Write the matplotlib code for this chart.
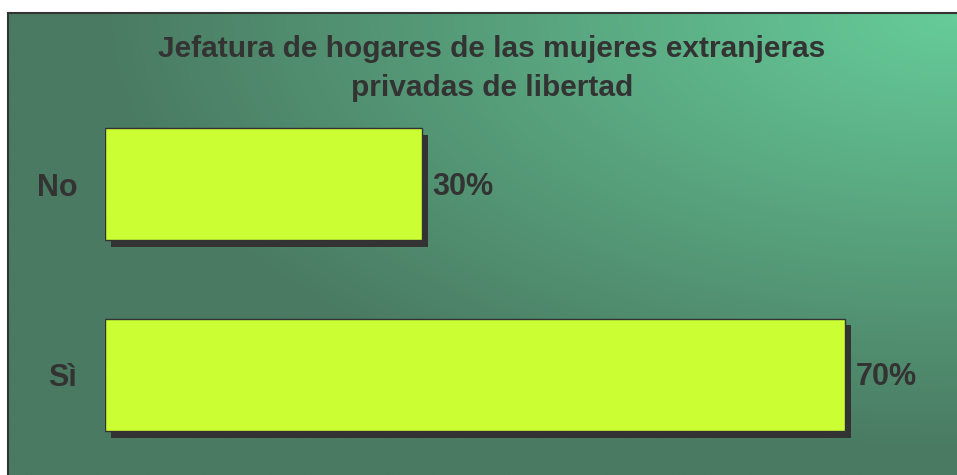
import numpy as np
import matplotlib
matplotlib.use("Agg")
import matplotlib.pyplot as plt
import matplotlib.patheffects as pe

plt.rcParams['font.family'] = ['Liberation Sans', 'DejaVu Sans']

# data
categories = ['Sì', 'No']
values = [70, 30]
value_labels = ['70%', '30%']
title = "Jefatura de hogares de las mujeres extranjeras\nprivadas de libertad"

text_color = '#333333'
bar_color = '#CCFF33'

W, H = 957, 475
fig = plt.figure(figsize=(W / 100, H / 100), dpi=100)
fig.patch.set_facecolor('white')

# background panel with the green gradient (light in the top right corner)
bg = fig.add_axes([8 / W, 0, 1 - 8 / W, (H - 13) / H])
ny, nx = 200, 400
xx, yy = np.meshgrid(np.linspace(0, 1, nx), np.linspace(0, 1, ny))
dx = 1 - xx
dy = yy
r = np.sqrt((dx * 1.05) ** 2 + dy ** 2)
t = np.clip(1 - r * 1.05, 0, 1)
dark = np.array([74, 122, 98]) / 255
light = np.array([102, 204, 153]) / 255
img = dark + (light - dark) * t[..., None]
bg.imshow(img, extent=[0, 1, 0, 1], aspect='auto', origin='upper')
bg.set_xlim(0, 1)
bg.set_ylim(0, 1)
bg.set_xticks([])
bg.set_yticks([])
for side in ['right', 'bottom']:
    bg.spines[side].set_visible(False)
for side in ['left', 'top']:
    bg.spines[side].set_color(text_color)
    bg.spines[side].set_linewidth(1.5)

# main bar chart
ax = fig.add_axes([105 / W, 5 / H, 845.6 / W, 381 / H])
ax.set_facecolor('none')
y = np.arange(len(categories))
shadow = [pe.SimplePatchShadow(offset=(4.6, -5), shadow_rgbFace=text_color, alpha=1), pe.Normal()]
bars = ax.barh(y, values, height=0.59, color=bar_color, edgecolor=text_color,
               linewidth=1, path_effects=shadow)
ax.set_xlim(0, 80)
ax.set_ylim(-0.5, 1.5)
ax.set_xticks([])
ax.set_yticks(y, categories)
ax.tick_params(axis='y', length=0, pad=20, labelsize=22, labelcolor=text_color)
for lab in ax.get_yticklabels():
    lab.set_fontweight('bold')
for s in ax.spines.values():
    s.set_visible(False)

for yi, v, lab in zip(y, values, value_labels):
    ax.annotate(lab, (v, yi), xytext=(7.5, -1.8), textcoords='offset points',
                ha='left', va='center', fontsize=22, fontweight='bold',
                color=text_color)

fig.text(492 / W, 1 - 68.5 / H, title, ha='center', va='center', fontsize=21.5,
         fontweight='bold', color=text_color, linespacing=1.5)

fig.savefig('out.png', dpi=100)
